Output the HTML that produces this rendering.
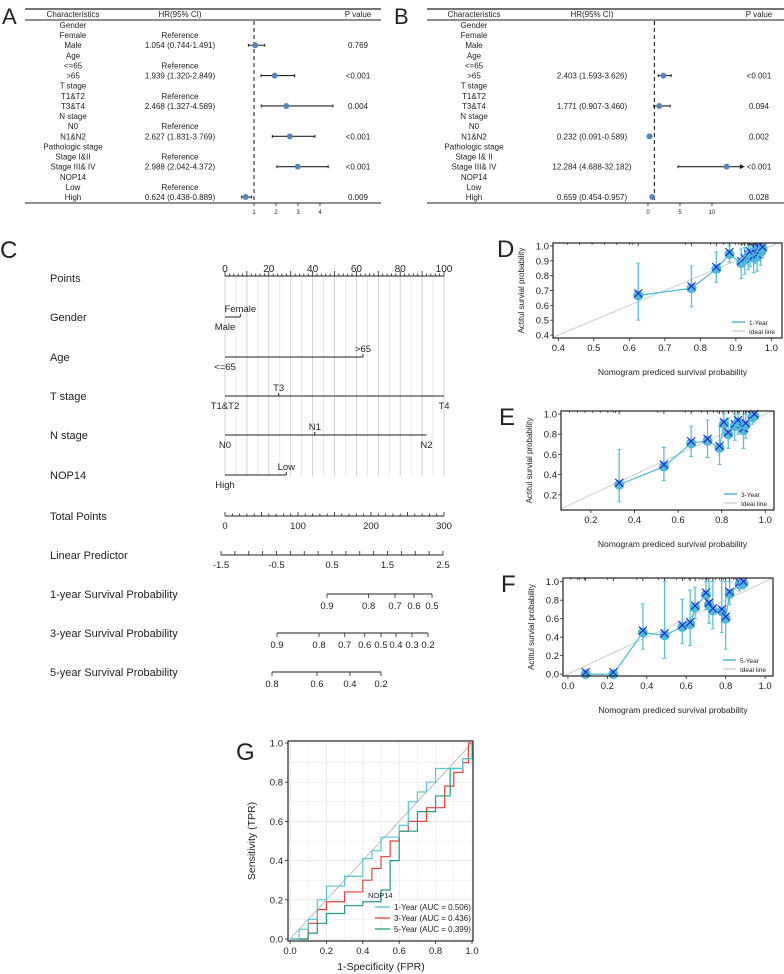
<!DOCTYPE html>
<html><head><meta charset="utf-8"><style>
html,body{margin:0;padding:0;background:#fff;}
svg{display:block;font-family:"Liberation Sans",sans-serif;}
</style></head><body>
<svg id="fig" width="784" height="974" viewBox="0 0 784 974" xmlns="http://www.w3.org/2000/svg"></svg>
<script>
// ---------- DATA ----------
const rowLabels = ["Gender","Female","Male","Age","<=65",">65","T stage","T1&T2","T3&T4","N stage","N0","N1&N2","Pathologic stage","Stage I&II","Stage III& IV","NOP14","Low","High"];
const rowLabelsB = ["Gender","Female","Male","Age","<=65",">65","T stage","T1&T2","T3&T4","N stage","N0","N1&N2","Pathologic stage","Stage I& II","Stage III& IV","NOP14","Low","High"];
const hrTextA = ["","Reference","1.054 (0.744-1.491)","","Reference","1.939 (1.320-2.849)","","Reference","2.468 (1.327-4.589)","","Reference","2.627 (1.831-3.769)","","Reference","2.988 (2.042-4.372)","","Reference","0.624 (0.438-0.889)"];
const pA = ["","","0.769","","","<0.001","","","0.004","","","<0.001","","","<0.001","","","0.009"];
const hrA = [null,null,1.054,null,null,1.939,null,null,2.468,null,null,2.627,null,null,2.988,null,null,0.624];
const loA = [null,null,0.744,null,null,1.320,null,null,1.327,null,null,1.831,null,null,2.042,null,null,0.438];
const hiA = [null,null,1.491,null,null,2.849,null,null,4.589,null,null,3.769,null,null,4.372,null,null,0.889];
const ticksA = [1,2,3,4];
const hrTextB = ["","","","","","2.403 (1.593-3.626)","","","1.771 (0.907-3.460)","","","0.232 (0.091-0.589)","","","12.284 (4.688-32.182)","","","0.659 (0.454-0.957)"];
const pB = ["","","","","","<0.001","","","0.094","","","0.002","","","<0.001","","","0.028"];
const hrB = [null,null,null,null,null,2.403,null,null,1.771,null,null,0.232,null,null,12.284,null,null,0.659];
const loB = [null,null,null,null,null,1.593,null,null,0.907,null,null,0.091,null,null,4.688,null,null,0.454];
const hiB = [null,null,null,null,null,3.626,null,null,3.460,null,null,0.589,null,null,14.5,null,null,0.957];
const ticksB = [0,5,10];

// nomogram
const pointTicks = [0,20,40,60,80,100];
const genderPts = [0,7]; const ageVals = [0,63]; const tPts = [0,24.5,100]; const nPts = [0,41,92]; const nopPts = [0,28];
const totalTicks = [0,100,200,300];
const lpTicks = [-1.5,-0.5,0.5,1.5,2.5];
const surv1Labels = ["0.9","0.8","0.7","0.6","0.5"]; const surv1Pts = [139.7,196.8,232.9,258.9,283.6];
const surv3Labels = ["0.9","0.8","0.7","0.6","0.5","0.4","0.3","0.2"]; const surv3Pts = [71.2,128.8,164,191.4,213.7,234.2,256.2,278.1];
const surv5Labels = ["0.8","0.6","0.4","0.2"]; const surv5Pts = [64.4,126,171.2,213.7];

// calibration
const dX = [0.625,0.775,0.845,0.882,0.915,0.925,0.935,0.94,0.95,0.955,0.96,0.965,0.97,0.975];
const dY = [0.667,0.715,0.845,0.945,0.885,0.905,0.93,0.95,0.92,0.97,0.93,0.98,0.96,0.98];
const dLo = [0.50,0.59,0.755,0.89,0.78,0.81,0.84,0.86,0.82,0.88,0.83,0.9,0.87,0.92];
const dHi = [0.885,0.865,0.96,1.0,0.98,0.99,1.0,1.0,1.0,1.0,1.0,1.0,1.0,1.0];
const eX = [0.33,0.535,0.66,0.735,0.79,0.81,0.83,0.86,0.875,0.9,0.91,0.94,0.95];
const eY = [0.30,0.48,0.71,0.735,0.665,0.9,0.8,0.88,0.92,0.84,0.89,0.97,0.98];
const eLo = [0.13,0.34,0.58,0.57,0.50,0.78,0.66,0.74,0.8,0.66,0.76,0.9,0.92];
const eHi = [0.65,0.67,0.88,0.94,0.88,1.0,0.96,1.0,1.0,1.0,1.0,1.0,1.0];
const fX = [0.09,0.23,0.38,0.49,0.58,0.62,0.645,0.70,0.715,0.735,0.78,0.80,0.82,0.87,0.89];
const fY = [0.0,0.0,0.45,0.42,0.51,0.54,0.72,0.86,0.75,0.69,0.68,0.60,0.87,0.97,0.98];
const fLo = [0.0,0.0,0.27,0.17,0.33,0.31,0.60,0.70,0.55,0.49,0.45,0.27,0.75,0.9,0.92];
const fHi = [0.0,0.0,0.76,1.0,0.81,0.91,0.94,1.0,1.0,1.0,1.0,1.0,1.0,1.0,1.0];

// ROC
const roc1X = [0,0.05,0.05,0.1,0.1,0.15,0.15,0.2,0.2,0.3,0.3,0.4,0.4,0.45,0.45,0.5,0.5,0.6,0.6,0.65,0.65,0.7,0.7,0.75,0.75,0.8,0.8,0.88,0.88,0.95,0.95,1,1];
const roc1Y = [0,0,0.05,0.05,0.1,0.1,0.2,0.2,0.27,0.27,0.32,0.32,0.41,0.41,0.45,0.45,0.52,0.52,0.58,0.58,0.7,0.7,0.75,0.75,0.8,0.8,0.87,0.87,0.87,0.87,0.92,0.92,1];
const roc3X = [0,0.1,0.1,0.15,0.15,0.2,0.2,0.3,0.3,0.4,0.4,0.45,0.45,0.5,0.5,0.55,0.55,0.6,0.6,0.65,0.65,0.75,0.75,0.85,0.85,0.9,0.9,0.95,0.95,0.98,0.98,1];
const roc3Y = [0,0,0.08,0.08,0.15,0.15,0.19,0.19,0.24,0.24,0.3,0.3,0.36,0.36,0.42,0.42,0.5,0.5,0.55,0.55,0.6,0.6,0.67,0.67,0.78,0.78,0.85,0.85,0.9,0.9,1,1];
const roc5X = [0,0.1,0.1,0.15,0.15,0.2,0.2,0.3,0.3,0.4,0.4,0.5,0.5,0.55,0.55,0.6,0.6,0.7,0.7,0.8,0.8,0.88,0.88,0.95,0.95,1,1];
const roc5Y = [0,0,0.03,0.03,0.08,0.08,0.13,0.13,0.17,0.17,0.19,0.19,0.25,0.25,0.4,0.4,0.55,0.55,0.65,0.65,0.73,0.73,0.87,0.87,0.92,0.92,1];
const rocTicks = [0,0.2,0.4,0.6,0.8,1.0];

// ---------- HELPERS ----------
const NS = "http://www.w3.org/2000/svg";
const svg = document.getElementById('fig');
function mk(tag, attrs, parent){ const e=document.createElementNS(NS,tag); for(const k in attrs) e.setAttribute(k,attrs[k]); (parent||svg).appendChild(e); return e; }
function txt(x,y,s,size,anchor,name,extra){
  const e=mk('text',Object.assign({x:x,y:y,'font-size':size,'text-anchor':anchor||'start',fill:'#222'},extra||{}));
  e.textContent=s;
  
  
  return e;
}
function ln(x1,y1,x2,y2,stroke,w,name,extra){
  const e=mk('line',Object.assign({x1:x1,y1:y1,x2:x2,y2:y2,stroke:stroke,'stroke-width':w},extra||{}));
  
  
  return e;
}

// ---------- PANEL A / B (forest) ----------
function forest(ox, x0, x1, charX, hrX, pX, labels, hrText, pv, hr, lo, hi, ticks, sx, dashX, letter, arrow){
  txt(ox+2, 24, letter, 22, 'start', 'panel-label-'+letter);
  ln(x0,9,x1,9,'#222',1.2,'table-top-rule');
  ln(x0,20,x1,20,'#222',1,'table-header-rule');
  ln(x0,203,x1,203,'#222',1,'table-bottom-rule');
  txt(charX,17,'Characteristics',8,'middle','header-characteristics');
  txt(hrX,17,'HR(95% CI)',8,'middle','header-hr');
  txt(pX,17,'P value',8,'middle','header-p-value');
  ln(dashX,21,dashX,203,'#222',1.1,'reference-line',{'stroke-dasharray':'4,3'});
  labels.forEach((l,i)=>{
    const y=25+i*10.12+3;
    txt(charX,y,l,8,'middle','row-label');
    if(hrText[i]) txt(hrX,y,hrText[i],8,'middle','hr-text');
    if(pv[i]) txt(pX,y,pv[i],8,'middle','p-value');
    if(hr[i]!==null){
      const cy=25+i*10.12;
      ln(sx(lo[i]),cy,sx(hi[i]),cy,'#222',1.1,'ci-line');
      ln(sx(lo[i]),cy-1.5,sx(lo[i]),cy+1.5,'#222',1,'ci-cap');
      if(arrow && i===14){
        const a=mk('path',{d:`M${sx(hi[i])+4},${cy} L${sx(hi[i])-1},${cy-2.5} L${sx(hi[i])-1},${cy+2.5} Z`,fill:'#222'});
        
        
      } else ln(sx(hi[i]),cy-1.5,sx(hi[i]),cy+1.5,'#222',1,'ci-cap');
      const c=mk('circle',{cx:sx(hr[i]),cy:cy,r:3,fill:'#5a85b8'});
      
      
    }
  });
  ticks.forEach(t=>{
    ln(sx(t),203,sx(t),206,'#222',0.8,'axis-tick');
    txt(sx(t),214,String(t),6,'middle','axis-tick-label');
  });
}
forest(0,25,381,73,180,358,rowLabels,hrTextA,pA,hrA,loA,hiA,ticksA,v=>254+(v-1)*22,254,'A',false);
forest(392,427,784,474,592,759,rowLabelsB,hrTextB,pB,hrB,loB,hiB,ticksB,v=>648+v*6.4,654.4,'B',true);

// ---------- PANEL C (nomogram) ----------
txt(0,258,'C',24,'start','panel-label-C');
const px = p=>225+p*2.19;
const tx = t=>225+t*0.73;
const lx = l=>221+(l+1.5)*55.5;
for(let p=0;p<=100;p+=5){ ln(px(p),276,px(p),476,p%10===0?'#c8c8c8':'#e2e2e2',0.8,'grid-line'); }
txt(50,282,'Points',11,'start','row-title-points');
ln(px(0),276,px(100),276,'#222',1,'points-axis');
for(let p=0;p<=100;p+=2){ ln(px(p),276,px(p),p%10===0?271:273.5,'#222',0.8,'points-tick'); }
pointTicks.forEach(p=>txt(px(p),272,String(p),10,'middle','points-tick-label'));
function factor(y,title,pts,labels,up){
  txt(50,y+4,title,11,'start','row-title');
  ln(px(pts[0]),y,px(pts[pts.length-1]),y,'#222',1,'factor-axis');
  pts.forEach((p,i)=>{
    const isUp=up[i];
    ln(px(p),y,px(p),isUp?y-3:y+0.01,'#222',1,'factor-tick');
    txt(px(p),isUp?y-5:y+13,labels[i],9.5,'middle','factor-level-label');
  });
}
factor(317,'Gender',genderPts,['Male','Female'],[false,true]);
factor(357,'Age',ageVals,['<=65','>65'],[false,true]);
factor(396,'T stage',tPts,['T1&T2','T3','T4'],[false,true,false]);
factor(435,'N stage',nPts,['N0','N1','N2'],[false,true,false]);
factor(475,'NOP14',nopPts,['High','Low'],[false,true]);
txt(50,520,'Total Points',11,'start','row-title-total-points');
ln(tx(0),516,tx(300),516,'#222',1,'total-points-axis');
for(let t=0;t<=300;t+=10){ ln(tx(t),516,tx(t),t%50===0?512:513.5,'#222',0.8,'total-points-tick'); }
totalTicks.forEach(t=>txt(tx(t),529,String(t),9.5,'middle','total-points-tick-label'));
txt(50,559,'Linear Predictor',11,'start','row-title-linear-predictor');
ln(lx(-1.5),555,lx(2.5),555,'#222',1,'lp-axis');
for(let l=-1.5;l<=2.51;l+=0.25){ ln(lx(l),555,lx(l),551,'#222',0.8,'lp-tick'); }
lpTicks.forEach(l=>txt(lx(l),568,String(l),9.5,'middle','lp-tick-label'));
function survAxis(y,title,labels,pts){
  txt(50,y+4,title,11,'start','row-title');
  ln(tx(pts[0]),y,tx(pts[pts.length-1]),y,'#222',1,'survival-axis');
  pts.forEach((p,i)=>{ ln(tx(p),y,tx(p),y+4,'#222',0.8,'survival-tick'); txt(tx(p),y+15,labels[i],9.5,'middle','survival-tick-label'); });
}
survAxis(594,'1-year Survival Probability',surv1Labels,surv1Pts);
survAxis(633,'3-year Survival Probability',surv3Labels,surv3Pts);
survAxis(672,'5-year Survival Probability',surv5Labels,surv5Pts);

// ---------- CALIBRATION PANELS ----------
function calib(letter,box,xr,yr,xt,yt,xs,ys,lo,hi,legend,labelPos){
  const [bx0,by0,bx1,by1]=box;
  const sx=v=>bx0+(v-xr[0])/(xr[1]-xr[0])*(bx1-bx0);
  const sy=v=>by1-(v-yr[0])/(yr[1]-yr[0])*(by1-by0);
  txt(labelPos[0],labelPos[1],letter,24,'start','panel-label-'+letter);
  const a=Math.max(xr[0],yr[0]), b=Math.min(xr[1],yr[1]);
  ln(sx(a),sy(a),sx(b),sy(b),'#d0d0d0',1,'ideal-line');
  xs.forEach(v=>{ ln(sx(v),by0,sx(v),by0+3,'#111',0.8,'rug-tick'); ln(sx(v)-6,by0,sx(v)-6,by0+2,'#111',0.6,'rug-tick'); });
  for(let v=xr[0]+0.04; v<xs[0]; v+=0.035){ ln(sx(v),by0,sx(v),by0+2,'#111',0.6,'rug-tick'); }
  xs.forEach((v,i)=>{
    if(hi[i]>lo[i]){
      ln(sx(v),sy(lo[i]),sx(v),sy(hi[i]),'#5bbfdc',1.3,'error-bar');
      ln(sx(v)-2,sy(lo[i]),sx(v)+2,sy(lo[i]),'#5bbfdc',1,'error-cap');
      ln(sx(v)-2,sy(hi[i]),sx(v)+2,sy(hi[i]),'#5bbfdc',1,'error-cap');
    }
  });
  const pl=mk('polyline',{points:xs.map((v,i)=>sx(v)+','+sy(ys[i])).join(' '),fill:'none',stroke:'#4fb8d6','stroke-width':1.2});
  
  
  xs.forEach((v,i)=>{
    const c=mk('circle',{cx:sx(v),cy:sy(ys[i]),r:5,fill:'#4db8d8'});
    
    
    const X=sx(v), Y=sy(ys[i])-2;
    ln(X-4,Y-4,X+4,Y+4,'#2222cc',1.1,'observed-marker');
    ln(X-4,Y+4,X+4,Y-4,'#2222cc',1.1,'observed-marker');
  });
  const r=mk('rect',{x:bx0,y:by0,width:bx1-bx0,height:by1-by0,fill:'none',stroke:'#222','stroke-width':1.2});
  
  
  xt.forEach(t=>{ ln(sx(t),by1,sx(t),by1+3,'#222',0.8,'x-tick'); txt(sx(t),by1+13,t.toFixed(1),9.5,'middle','x-tick-label'); });
  yt.forEach(t=>{ ln(bx0,sy(t),bx0-3,sy(t),'#222',0.8,'y-tick'); txt(bx0-4,sy(t)+3.5,t.toFixed(1),9.5,'end','y-tick-label'); });
  txt((bx0+bx1)/2+5,by1+37,'Nomogram prediced survival probability',8.5,'middle','x-axis-title');
  txt(0,0,'Actitul survial probability',8,'middle','y-axis-title',{transform:`translate(${bx0-29},${(by0+by1)/2}) rotate(-90)`});
  ln(bx1-50,by1-16,bx1-37,by1-16,'#4fb8d6',1.5,'legend-swatch-series');
  txt(bx1-33,by1-13,legend,6.5,'start','legend-label-series');
  ln(bx1-50,by1-7,bx1-37,by1-7,'#c8b8c8',1,'legend-swatch-ideal');
  txt(bx1-33,by1-4,'Ideal line',6.5,'start','legend-label-ideal');
}
calib('D',[553,243,782,338],[0.385,1.03],[0.38,1.02],[0.4,0.5,0.6,0.7,0.8,0.9,1.0],[0.4,0.5,0.6,0.7,0.8,0.9,1.0],dX,dY,dLo,dHi,'1-Year',[497,257]);
calib('E',[561,411,774,510],[0.063,1.04],[0.05,1.03],[0.2,0.4,0.6,0.8,1.0],[0.2,0.4,0.6,0.8,1.0],eX,eY,eLo,eHi,'3-Year',[499,425]);
calib('F',[563,578,773,676],[-0.025,1.04],[-0.02,1.04],[0.0,0.2,0.4,0.6,0.8,1.0],[0.0,0.2,0.4,0.6,0.8,1.0],fX,fY,fLo,fHi,'5-Year',[501,592]);

// ---------- PANEL G (ROC) ----------
(function(){
  const bx0=288,by0=741,bx1=473,by1=941;
  const sx=v=>290+v*182, sy=v=>939-v*196;
  txt(236,760,'G',24,'start','panel-label-G');
  for(let v=0;v<=1.001;v+=0.1){
    ln(sx(v),by0,sx(v),by1,'#ebebeb',Math.abs(v*10%2)<0.01?1:0.6,'grid-x');
    ln(bx0,sy(v),bx1,sy(v),'#ebebeb',Math.abs(v*10%2)<0.01?1:0.6,'grid-y');
  }
  ln(sx(0),sy(0),sx(1),sy(1),'#bdbdbd',1,'roc-diagonal');
  [[roc3X,roc3Y,'#e3413b','roc-3-year'],[roc5X,roc5Y,'#1f9b7c','roc-5-year'],[roc1X,roc1Y,'#58c4d4','roc-1-year']].forEach(s=>{
    const p=mk('polyline',{points:s[0].map((v,i)=>sx(v)+','+sy(s[1][i])).join(' '),fill:'none',stroke:s[2],'stroke-width':1.2});
    
    
  });
  const r=mk('rect',{x:bx0,y:by0,width:bx1-bx0,height:by1-by0,fill:'none',stroke:'#222','stroke-width':1.2});
  
  
  rocTicks.forEach(t=>{
    ln(sx(t),by1,sx(t),by1+3,'#222',0.8,'x-tick'); txt(sx(t),by1+13,t.toFixed(1),9.5,'middle','x-tick-label');
    ln(bx0,sy(t),bx0-3,sy(t),'#222',0.8,'y-tick'); txt(bx0-5,sy(t)+3.5,t.toFixed(1),9.5,'end','y-tick-label');
  });
  txt(381,970,'1-Specificity (FPR)',10.5,'middle','x-axis-title');
  txt(0,0,'Sensitivity (TPR)',10.5,'middle','y-axis-title',{transform:`translate(255,841) rotate(-90)`});
  txt(368,898,'NOP14',7.5,'start','legend-title');
  [['1-Year (AUC = 0.506)','#58c4d4'],['3-Year (AUC = 0.436)','#e3413b'],['5-Year (AUC = 0.399)','#1f9b7c']].forEach((l,i)=>{
    ln(375,907+i*11,390,907+i*11,l[1],1.3,'legend-swatch');
    txt(394,910+i*11,l[0],8,'start','legend-label');
  });
})();
</script>
</body></html>
